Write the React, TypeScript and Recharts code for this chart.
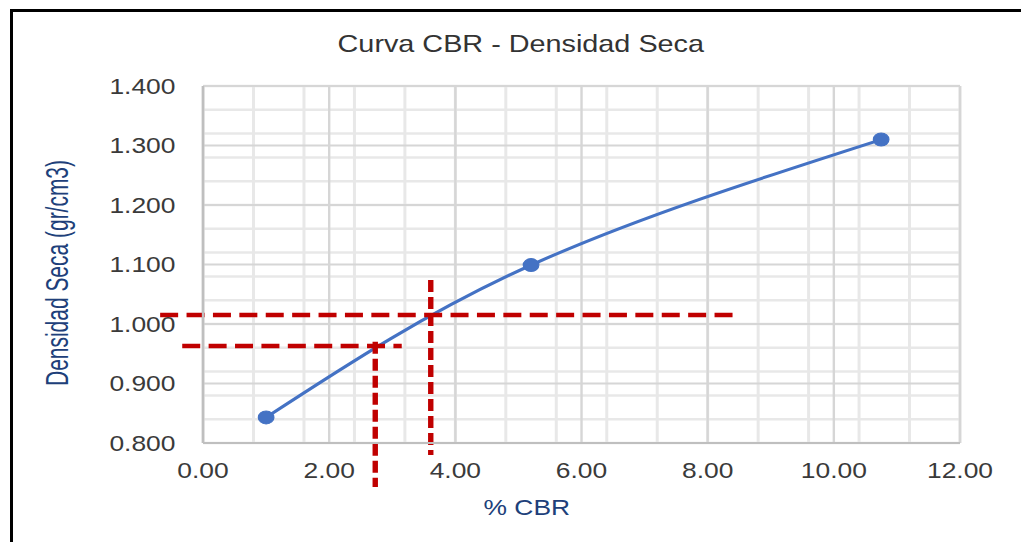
import { CartesianGrid, Line, LineChart, ReferenceLine, XAxis, YAxis } from "recharts";

// CBR test results: penetration % vs. dry density
const cbrPct = [1.0, 5.2, 10.75];
const dryDensity = [0.843, 1.099, 1.31];

const xTicks = [0, 2, 4, 6, 8, 10, 12];
const yTicks = [0.8, 0.9, 1.0, 1.1, 1.2, 1.3, 1.4];

// read-off guides: density level -> CBR on the curve
const guideDensity = [1.015, 0.963];
const guideDensitySpan = [
  [-0.68, 8.43],
  [-0.33, 3.15],
];
const guideCbr = [3.61, 2.73];
const guideCbrSpan = [
  [0.78, 1.074],
  [0.726, 0.97],
];

const data = cbrPct.map((cbr, i) => ({ cbr, density: dryDensity[i] }));

// minor grid every 0.4 % and 0.02 g/cm3
const minorX = Array.from({ length: 31 }, (_, i) => +(i * 0.4).toFixed(2));
const minorY = Array.from({ length: 31 }, (_, i) => +(0.8 + i * 0.02).toFixed(3));

const FONT = '"Liberation Sans", Arial, sans-serif';
const W = 851;
const H = 542;

export default function App() {
  return (
    <div
      style={{
        position: "absolute",
        left: 0,
        top: 0,
        width: 1021,
        height: H,
        background: "#fff",
        overflow: "hidden",
      }}
    >
      <div
        style={{
          position: "absolute",
          left: 10,
          top: 9,
          right: 0,
          bottom: 0,
          borderTop: "3px solid #000",
          borderLeft: "3px solid #000",
        }}
      />
      <div
        style={{
          position: "absolute",
          left: 0,
          top: 0,
          width: W,
          height: H,
          transform: "scaleX(1.2)",
          transformOrigin: "0 0",
        }}
      >
        <LineChart width={W} height={H} data={data} margin={{ top: 86, right: 51, bottom: 39, left: 0 }}>
          <CartesianGrid
            stroke="#e8e8e8"
            strokeWidth={2.5}
            horizontalValues={minorY}
            verticalValues={minorX}
          />
          <CartesianGrid stroke="#d6d6d6" strokeWidth={2} />
          <XAxis
            type="number"
            dataKey="cbr"
            domain={[0, 12]}
            ticks={xTicks}
            tickFormatter={(v: number) => v.toFixed(2)}
            height={60}
            tickSize={0}
            tickMargin={19}
            stroke="#bfbfbf"
            strokeWidth={2}
            tick={{ fill: "#3a3a3a", fontSize: 22, fontFamily: FONT }}
          />
          <YAxis
            type="number"
            domain={[0.8, 1.4]}
            ticks={yTicks}
            tickFormatter={(v: number) => v.toFixed(3)}
            width={169.2}
            tickSize={0}
            tickMargin={23}
            stroke="#bfbfbf"
            strokeWidth={2}
            tick={{ fill: "#3a3a3a", fontSize: 22, fontFamily: FONT }}
          />
          <Line
            type="natural"
            dataKey="density"
            stroke="#4472c4"
            strokeWidth={3}
            dot={{ r: 6.5, fill: "#4472c4", stroke: "#4472c4", strokeWidth: 1 }}
            isAnimationActive={false}
          />
          {guideDensity.map((d, i) => (
            <ReferenceLine
              key={"h" + i}
              segment={[
                { x: guideDensitySpan[i][0], y: d },
                { x: guideDensitySpan[i][1], y: d },
              ]}
              ifOverflow="visible"
              stroke="#c00000"
              strokeWidth={4.5}
              strokeDasharray="15 7"
            />
          ))}
          {guideCbr.map((c, i) => (
            <ReferenceLine
              key={"v" + i}
              segment={[
                { x: c, y: guideCbrSpan[i][1] },
                { x: c, y: guideCbrSpan[i][0] },
              ]}
              ifOverflow="visible"
              stroke="#c00000"
              strokeWidth={4.5}
              strokeDasharray="12 5"
            />
          ))}
          <text
            x={434}
            y={44}
            textAnchor="middle"
            dominantBaseline="central"
            fontSize={24}
            fontFamily={FONT}
            fill="#333"
          >
            Curva CBR - Densidad Seca
          </text>
          <text
            x={439}
            y={507}
            textAnchor="middle"
            dominantBaseline="central"
            fontSize={22}
            fontFamily={FONT}
            fill="#203f7a"
          >
            % CBR
          </text>
          <text
            x={48}
            y={273}
            transform="rotate(-90 48 273)"
            textAnchor="middle"
            dominantBaseline="central"
            fontSize={26}
            fontFamily={'"Liberation Sans Narrow", "Arial Narrow", ' + FONT}
            textLength={226}
            lengthAdjust="spacingAndGlyphs"
            fill="#203f7a"
          >
            Densidad Seca (gr/cm3)
          </text>
        </LineChart>
      </div>
    </div>
  );
}
